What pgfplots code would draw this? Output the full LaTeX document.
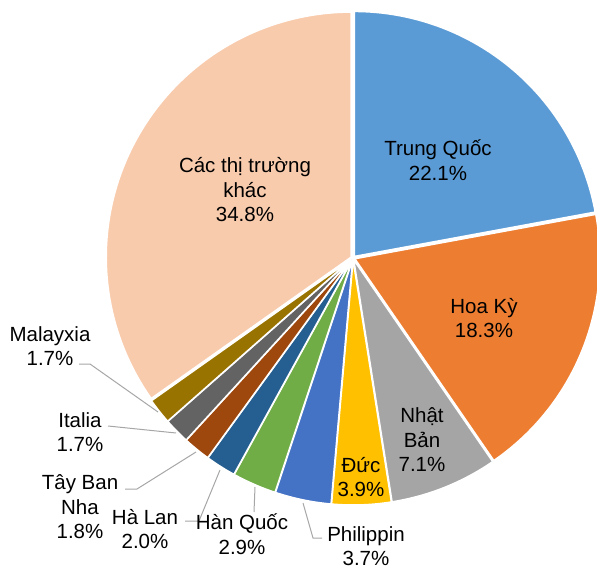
\documentclass[border=0pt]{standalone}
\usepackage{pgfplots}
\pgfplotsset{compat=1.18}
\usepackage{fontspec}
\setmainfont{Liberation Sans}
\definecolor{cTQ}{HTML}{5B9BD5}
\definecolor{cHK}{HTML}{ED7D31}
\definecolor{cNB}{HTML}{A5A5A5}
\definecolor{cDU}{HTML}{FFC000}
\definecolor{cPH}{HTML}{4472C4}
\definecolor{cHQ}{HTML}{70AD47}
\definecolor{cHL}{HTML}{255E91}
\definecolor{cTB}{HTML}{9E480E}
\definecolor{cIT}{HTML}{636363}
\definecolor{cMA}{HTML}{997300}
\definecolor{cOT}{HTML}{F8CBAD}
\definecolor{leader}{HTML}{A6A6A6}

% running total of the shares already drawn (percent)
\gdef\cumsum{0}
\newcommand{\pieslice}[2]{%
  \pgfmathsetmacro{\angA}{90-3.6*\cumsum}%
  \pgfmathsetmacro{\angB}{90-3.6*(\cumsum+#2)}%
  \pgfmathsetmacro{\angM}{(\angA+\angB)/2}%
  \pgfmathsetmacro{\offx}{2*cos(\angM)}%
  \pgfmathsetmacro{\offy}{2*sin(\angM)}%
  \pgfmathsetmacro{\newsum}{\cumsum+#2}%
  \xdef\cumsum{\newsum}%
  \edef\tmp{\noexpand\addplot[fill=#1, draw=white, line width=1.5pt,
      domain=\angB:\angA, samples=80]
      ({\offx+245*cos(x)}, {\offy+245*sin(x)}) -- (\offx,\offy) -- cycle;}%
  \tmp
}

\begin{document}
\begin{tikzpicture}
\useasboundingbox (0,0) rectangle (597pt,571pt);
\begin{axis}[at={(0,0)}, anchor=south west, scale only axis,
    width=597pt, height=571pt,
    xmin=-353, xmax=244, ymin=-313, ymax=258,
    hide axis, clip=false]
\pieslice{cTQ}{22.1}
\pieslice{cHK}{18.3}
\pieslice{cNB}{7.1}
\pieslice{cDU}{3.9}
\pieslice{cPH}{3.7}
\pieslice{cHQ}{2.9}
\pieslice{cHL}{2.0}
\pieslice{cTB}{1.8}
\pieslice{cIT}{1.7}
\pieslice{cMA}{1.7}
\pieslice{cOT}{34.8}

% leader lines
\draw[leader, line width=1pt] (-274,-106) -- (-263,-106) -- (-195,-154);
\draw[leader, line width=1pt] (-245,-168) -- (-177,-175);
\draw[leader, line width=1pt] (-228,-231) -- (-216,-231) -- (-157,-194);
\draw[leader, line width=1pt] (-168,-263) -- (-154,-263) -- (-133,-212);
\draw[leader, line width=1pt] (-99,-254) -- (-98,-229);
\draw[leader, line width=1pt] (-31,-280) -- (-40,-280) -- (-50,-245);

\tikzset{lbl/.style={align=center, inner sep=0pt,
    font=\fontsize{20.5}{24.5}\selectfont}}
\node[lbl] at (85,98) {Trung Quốc\\22.1\%};
\node[lbl] at (131,-60) {Hoa Kỳ\\18.3\%};
\node[lbl] at (69,-182) {Nhật\\Bản\\7.1\%};
\node[lbl] at (8,-219) {Đức\\3.9\%};
\node[lbl] at (13,-288) {Philippin\\3.7\%};
\node[lbl] at (-111,-276) {Hàn Quốc\\2.9\%};
\node[lbl] at (-208,-271) {Hà Lan\\2.0\%};
\node[lbl] at (-273,-249) {Tây Ban\\Nha\\1.8\%};
\node[lbl] at (-273,-174) {Italia\\1.7\%};
\node[lbl] at (-303,-88) {Malayxia\\1.7\%};
\node[lbl] at (-108,68) {Các thị trường\\khác\\34.8\%};
\end{axis}
\end{tikzpicture}
\end{document}
